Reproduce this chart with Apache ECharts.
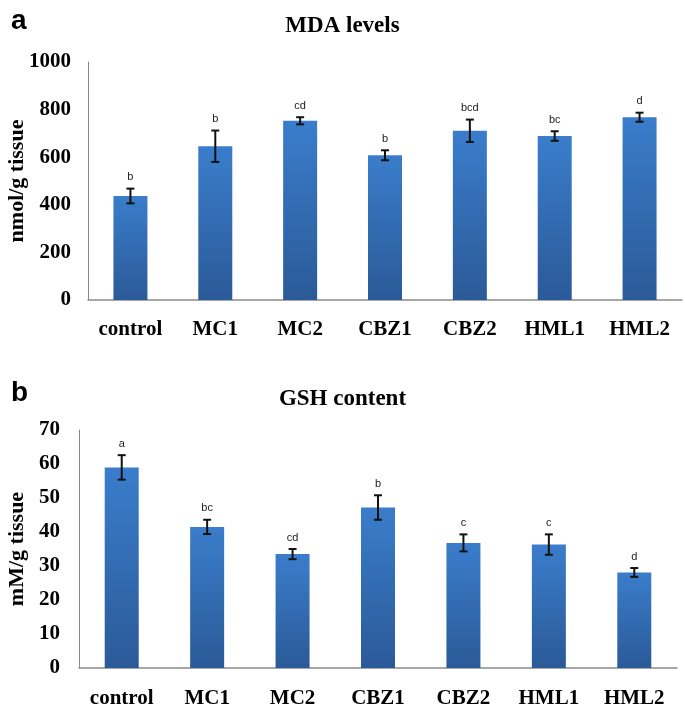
<!DOCTYPE html>
<html><head><meta charset="utf-8">
<script src="https://cdn.jsdelivr.net/npm/echarts@6/dist/echarts.min.js"></script>
<style>html,body{margin:0;padding:0;background:#fff}#c{width:685px;height:711px}</style>
</head><body><div id="c"></div>
<script>
const categories = ['control','MC1','MC2','CBZ1','CBZ2','HML1','HML2'];
const mdaValues = [437, 646, 753, 608, 711, 689, 768];
const mdaErrors = [31, 66, 15, 21, 47, 20, 19];
const mdaLetters = ['b','b','cd','b','bcd','bc','d'];
const gshValues = [59.0, 41.5, 33.5, 47.2, 36.8, 36.3, 28.1];
const gshErrors = [3.6, 2.1, 1.5, 3.6, 2.5, 3.0, 1.3];
const gshLetters = ['a','bc','cd','b','c','c','d'];

const serif = '"Liberation Serif","Times New Roman",serif';
const barGrad = new echarts.graphic.LinearGradient(0,0,0,1,[{offset:0,color:'#3a7dcb'},{offset:1,color:'#2b5a98'}]);

function errSeries(idx, vals, errs, letters){
  return {
    type:'custom', xAxisIndex:idx, yAxisIndex:idx, z:5,
    data: vals.map((v,i)=>[i, v, errs[i]]),
    renderItem: function(params, api){
      const x = api.value(0), v = api.value(1), e = api.value(2);
      const top = api.coord([x, v+e]), bot = api.coord([x, v-e]);
      const cx = top[0], hw = 4;
      return {type:'group', children:[
        {type:'line', shape:{x1:cx,y1:top[1],x2:cx,y2:bot[1]}, style:{stroke:'#111',lineWidth:2}},
        {type:'line', shape:{x1:cx-hw,y1:top[1],x2:cx+hw,y2:top[1]}, style:{stroke:'#111',lineWidth:2}},
        {type:'line', shape:{x1:cx-hw,y1:bot[1],x2:cx+hw,y2:bot[1]}, style:{stroke:'#111',lineWidth:2}},
        {type:'text', style:{text:letters[params.dataIndex], x:cx, y:top[1]-6, align:'center', verticalAlign:'bottom', font:'11px "Liberation Sans",Arial,sans-serif', fill:'#222'}}
      ]};
    }
  };
}

const catAxis = (gi, m)=>({
  type:'category', gridIndex:gi, data:categories,
  axisLine:{lineStyle:{color:'#8a8a8a',width:1.5}}, axisTick:{show:false},
  axisLabel:{interval:0, fontFamily:serif, fontWeight:'bold', fontSize:21, color:'#000', margin:m}
});

const option = {
  animation:false,
  title:[
    {text:'a', left:6, top:2, textStyle:{fontFamily:'"Liberation Sans",Arial,sans-serif', fontWeight:'bold', fontSize:28, color:'#000'}},
    {text:'MDA levels', left:'center', top:10, textStyle:{fontFamily:serif, fontWeight:'bold', fontSize:23, color:'#000'}},
    {text:'b', left:6, top:374, textStyle:{fontFamily:'"Liberation Sans",Arial,sans-serif', fontWeight:'bold', fontSize:28, color:'#000'}},
    {text:'GSH content', left:'center', top:383, textStyle:{fontFamily:serif, fontWeight:'bold', fontSize:23, color:'#000'}}
  ],
  grid:[
    {left:88, right:3, top:62, bottom:411, outerBoundsMode:'none', containLabel:false},
    {left:79, right:8, top:430, bottom:43, outerBoundsMode:'none', containLabel:false}
  ],
  xAxis:[catAxis(0, 19), catAxis(1, 20)],
  yAxis:[
    {type:'value', gridIndex:0, min:0, max:1000, interval:200,
     name:'nmol/g tissue', nameLocation:'middle', nameGap:60, nameRotate:90, nameMoveOverlap:false,
     nameTextStyle:{fontFamily:serif, fontWeight:'bold', fontSize:22, color:'#000'},
     axisLine:{show:true, lineStyle:{color:'#8a8a8a',width:1}}, axisTick:{show:false}, splitLine:{show:false},
     axisLabel:{formatter:(v)=>String(v), fontFamily:serif, fontWeight:'bold', fontSize:21, color:'#000', margin:17}},
    {type:'value', gridIndex:1, min:0, max:70, interval:10,
     name:'mM/g tissue', nameLocation:'middle', nameGap:51, nameRotate:90, nameMoveOverlap:false,
     nameTextStyle:{fontFamily:serif, fontWeight:'bold', fontSize:22, color:'#000'},
     axisLine:{show:true, lineStyle:{color:'#8a8a8a',width:1}}, axisTick:{show:false}, splitLine:{show:false},
     axisLabel:{formatter:(v)=>String(v), fontFamily:serif, fontWeight:'bold', fontSize:21, color:'#000', margin:19}}
  ],
  series:[
    {type:'bar', xAxisIndex:0, yAxisIndex:0, data:mdaValues, barWidth:34, itemStyle:{color:barGrad}},
    errSeries(0, mdaValues, mdaErrors, mdaLetters),
    {type:'bar', xAxisIndex:1, yAxisIndex:1, data:gshValues, barWidth:34, itemStyle:{color:barGrad}},
    errSeries(1, gshValues, gshErrors, gshLetters)
  ]
};
const chart = echarts.init(document.getElementById('c'), null, {renderer:'canvas'});
chart.setOption(option);
</script>
</body></html>
